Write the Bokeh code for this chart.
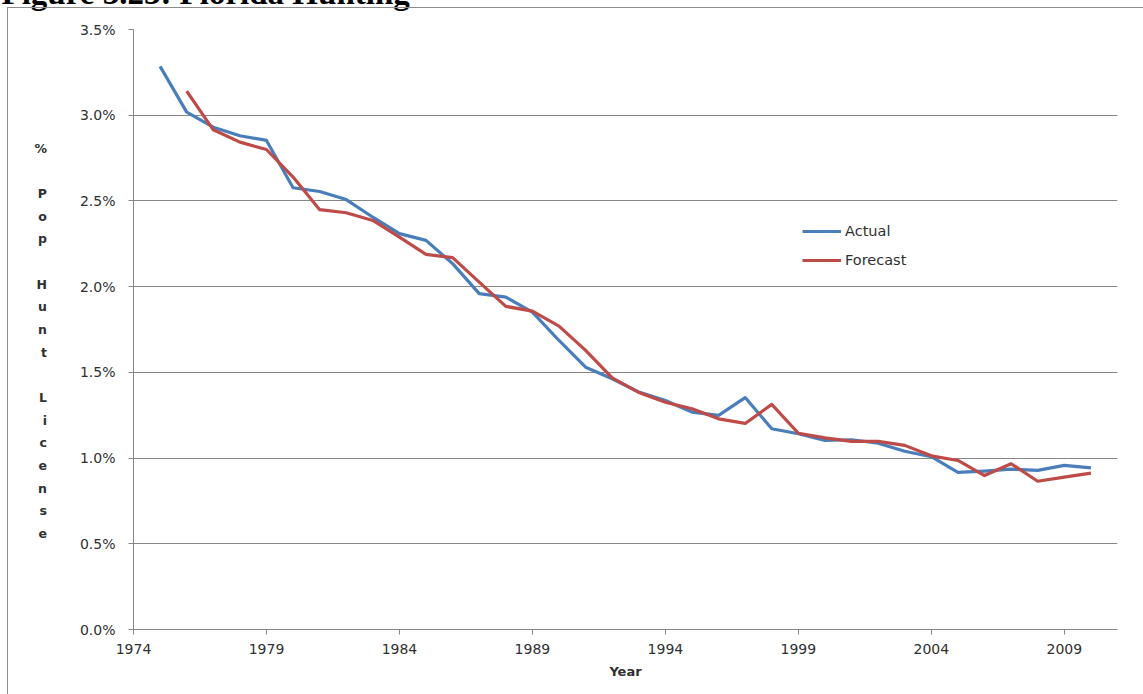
from bokeh.plotting import figure
from bokeh.models import (Range1d, FixedTicker, PrintfTickFormatter, Legend, LegendItem,
                          Title)
from bokeh.embed import file_html
from bokeh.resources import INLINE

# ---------------- data ----------------
actual_years = list(range(1975, 2011))
actual_pct = [3.285, 3.018, 2.930, 2.880, 2.853, 2.577, 2.555, 2.508, 2.405, 2.309,
              2.270, 2.134, 1.959, 1.939, 1.851, 1.686, 1.530, 1.463, 1.385, 1.336,
              1.268, 1.249, 1.353, 1.171, 1.142, 1.103, 1.107, 1.087, 1.040, 1.008,
              0.916, 0.924, 0.935, 0.928, 0.957, 0.943]
forecast_years = list(range(1976, 2011))
forecast_pct = [3.140, 2.915, 2.843, 2.800, 2.639, 2.449, 2.431, 2.386, 2.289, 2.188,
                2.169, 2.026, 1.885, 1.857, 1.770, 1.628, 1.468, 1.383, 1.326, 1.288,
                1.229, 1.202, 1.313, 1.145, 1.118, 1.097, 1.097, 1.074, 1.013, 0.986,
                0.898, 0.967, 0.865, 0.889, 0.912]
x_ticks = [1974, 1979, 1984, 1989, 1994, 1999, 2004, 2009]
y_ticks = [0.0, 0.5, 1.0, 1.5, 2.0, 2.5, 3.0, 3.5]
title_text = "Figure 3.23: Florida Hunting"
y_label_words = ["%", "Pop", "Hunt", "License"]
x_label_text = "Year"

# ---------------- layout (page pixels) ----------------
W, H = 1143, 694
FL, FT, FW, FH = 133, 29, 984, 600
TOP_EXTRA = 60            # canvas starts above the page so the title is cropped
X0, X1 = 1974, 2011
Y0, Y1 = 0.0, 3.5

GRID = "#868686"
TXT = "#303030"
FONT = "DejaVu Sans"

border_css = (":host::before { content: ''; position: absolute; left: 7px; top: %dpx; "
              "right: 0; bottom: 0; border-left: 1px solid #8c8c8c; "
              "border-top: 1px solid #8c8c8c; z-index: 10; pointer-events: none; }"
              % (7 + TOP_EXTRA))

p = figure(width=W, height=H + TOP_EXTRA, output_backend="svg", toolbar_location=None,
           x_range=Range1d(X0, X1), y_range=Range1d(Y0, Y1),
           min_border_left=FL, min_border_top=FT + TOP_EXTRA,
           min_border_right=W - FL - FW, min_border_bottom=H - FT - FH,
           frame_width=FW, frame_height=FH,
           stylesheets=[border_css])
p.margin = (-TOP_EXTRA, 0, 0, 0)
p.outline_line_color = None
p.background_fill_color = "white"
p.border_fill_color = "white"

p.title = Title(text=title_text, align="left", offset=1 - FL, standoff=37,
                text_font="Liberation Serif", text_font_style="bold",
                text_font_size="33px", text_color="black")

# axes
p.xaxis.ticker = FixedTicker(ticks=x_ticks)
p.yaxis.ticker = FixedTicker(ticks=y_ticks)
p.yaxis.formatter = PrintfTickFormatter(format="%.1f%%")
for ax in (p.xaxis, p.yaxis):
    ax.axis_line_color = GRID
    ax.major_tick_line_color = GRID
    ax.major_tick_out = 5
    ax.major_tick_in = 0
    ax.minor_tick_line_color = None
    ax.major_label_text_font = FONT
    ax.major_label_text_font_size = "14px"
    ax.major_label_text_color = TXT
p.yaxis.major_label_standoff = 13
p.xaxis.major_label_standoff = 9
p.xaxis.axis_label = x_label_text
p.xaxis.axis_label_text_font = FONT
p.xaxis.axis_label_text_font_style = "bold"
p.xaxis.axis_label_text_font_size = "13px"
p.xaxis.axis_label_text_color = TXT
p.xaxis.axis_label_standoff = 7

# stacked one-character-per-line y-axis title
stack = [""]  # leading blank keeps the stack's centre where the reference has it
for i, word in enumerate(y_label_words):
    if i > 0:
        stack.append("")
    stack.extend(list(word))
p.yaxis.axis_label = "\n".join(stack)
p.yaxis.axis_label_orientation = "horizontal"
p.yaxis.axis_label_text_font = FONT
p.yaxis.axis_label_text_font_style = "bold"
p.yaxis.axis_label_text_font_size = "12.5px"
p.yaxis.axis_label_text_color = TXT
p.yaxis.axis_label_text_line_height = 1.51
p.yaxis.axis_label_text_align = "center"
p.yaxis.axis_label_standoff = 30

p.xgrid.visible = False
p.ygrid.grid_line_color = GRID
p.ygrid.grid_line_width = 1

# lines
r_act = p.line(actual_years, actual_pct, line_color="#4a7ebb", line_width=3.2,
               line_join="round")
r_fc = p.line(forecast_years, forecast_pct, line_color="#be4b48", line_width=3.2,
              line_join="round")

legend = Legend(items=[LegendItem(label="Actual", renderers=[r_act]),
                       LegendItem(label="Forecast", renderers=[r_fc])],
                location=(669, 359), glyph_width=39, glyph_height=20,
                label_height=20, label_standoff=4, spacing=9, padding=0, margin=0,
                border_line_color=None, background_fill_alpha=0,
                label_text_font=FONT, label_text_font_size="14.5px",
                label_text_color=TXT)
p.add_layout(legend)

open("out.html", "w").write(file_html(p, INLINE))
